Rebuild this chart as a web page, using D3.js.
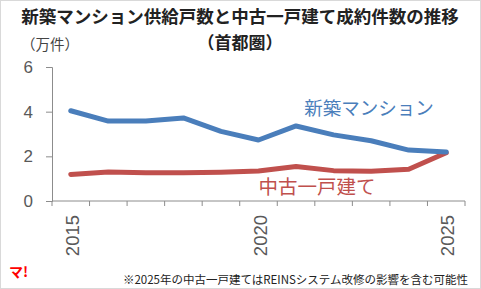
<!DOCTYPE html>
<html><head><meta charset="utf-8">
<script src="https://cdn.jsdelivr.net/npm/d3@7"></script>
<style>
html,body{margin:0;padding:0;background:#fff;}
svg{display:block;}
</style>
</head><body>
<script>
const years = [2015,2016,2017,2018,2019,2020,2021,2022,2023,2024,2025];
const mansion = [4.04,3.58,3.58,3.72,3.12,2.73,3.36,2.96,2.70,2.28,2.19];
const kodate = [1.19,1.30,1.27,1.27,1.29,1.34,1.54,1.36,1.33,1.42,2.16];
const yTicks = [0,2,4,6];
const xLabelYears = [2015,2020,2025];

const W=481,H=289;
const jp = "'Noto Sans CJK JP', sans-serif";
const num = "'Liberation Sans', Arial, sans-serif";
const svg = d3.select("body").append("svg").attr("width",W).attr("height",H);
svg.append("rect").attr("x",0.5).attr("y",0.5).attr("width",W-1).attr("height",H-1)
  .attr("fill","#fff").attr("stroke","#d9d9d9");

const x = d3.scaleBand().domain(years).range([52,465]);
const y = d3.scaleLinear().domain([0,6]).range([201,67]);

// title
svg.append("text").attr("x",240).attr("y",23).attr("text-anchor","middle")
  .attr("font-family",jp).attr("font-weight","bold").attr("font-size",17.5).attr("fill","#222")
  .text("新築マンション供給戸数と中古一戸建て成約件数の推移");
svg.append("text").attr("x",240).attr("y",49).attr("text-anchor","middle")
  .attr("font-family",jp).attr("font-weight","bold").attr("font-size",17).attr("fill","#222")
  .text("（首都圏）");
svg.append("text").attr("x",21).attr("y",50).attr("text-anchor","start")
  .attr("font-family",jp).attr("font-size",14.5).attr("fill","#444")
  .text("（万件）");

// y axis
const ya = svg.append("g").attr("transform","translate(52,0)")
  .call(d3.axisLeft(y).tickValues(yTicks).tickSize(6).tickPadding(13).tickFormat(d3.format("d")));
ya.select(".domain").attr("stroke","#8c8c8c");
ya.selectAll(".tick line").attr("stroke","#8c8c8c");
ya.selectAll("text").attr("font-family",num).attr("font-size",17).attr("fill","#595959");

// x axis
const xa = svg.append("g").attr("transform","translate(0,201)");
xa.append("line").attr("x1",52).attr("x2",465).attr("stroke","#8c8c8c");
const bounds = years.map(d=>x(d)).concat([x(years[years.length-1])+x.bandwidth()]);
xa.selectAll("line.tk").data(bounds).join("line").attr("class","tk")
  .attr("x1",d=>d).attr("x2",d=>d).attr("y1",0).attr("y2",5).attr("stroke","#8c8c8c");
xa.selectAll("text").data(xLabelYears).join("text")
  .attr("transform",d=>`translate(${x(d)+x.bandwidth()/2+8},14) rotate(-90)`)
  .attr("text-anchor","end").attr("font-family",num).attr("font-size",18.5).attr("fill","#595959")
  .text(d=>d);

// lines
const line = d3.line().x((d,i)=>x(years[i])+x.bandwidth()/2).y(d=>y(d));
svg.append("path").datum(kodate).attr("d",line).attr("fill","none")
  .attr("stroke","#c0504d").attr("stroke-width",5).attr("stroke-linejoin","round").attr("stroke-linecap","round");
svg.append("path").datum(mansion).attr("d",line).attr("fill","none")
  .attr("stroke","#4a7ebb").attr("stroke-width",5).attr("stroke-linejoin","round").attr("stroke-linecap","round");

// series labels
svg.append("text").attr("x",369).attr("y",115).attr("text-anchor","middle")
  .attr("font-family",jp).attr("font-size",18.5).attr("fill","#4a7ebb").text("新築マンション");
svg.append("text").attr("x",317).attr("y",194).attr("text-anchor","middle")
  .attr("font-family",jp).attr("font-size",19.5).attr("fill","#c0504d").text("中古一戸建て");

// footnote
svg.append("text").attr("x",468).attr("y",284).attr("text-anchor","end")
  .attr("font-family",jp).attr("font-size",11.5).attr("fill","#222")
  .text("※2025年の中古一戸建てはREINSシステム改修の影響を含む可能性");

// logo
svg.append("text").attr("x",9).attr("y",277).attr("font-family",jp).attr("font-weight","bold")
  .attr("font-size",14).attr("fill","#ff0000").text("マ!");
</script>
</body></html>
